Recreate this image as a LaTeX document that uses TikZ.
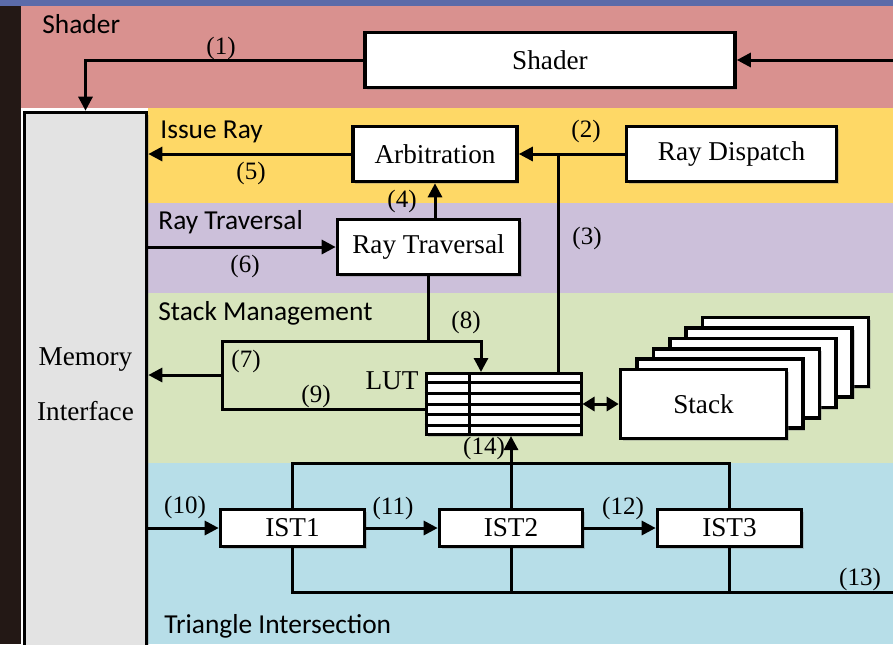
\documentclass[tikz,border=0pt]{standalone}
\usepackage{fontspec}
\setmainfont{Liberation Serif}
\newfontfamily\bandfont{Carlito}
\usepackage{tikz}
\usetikzlibrary{positioning, arrows.meta, calc, shadows}
\usepackage{xcolor}

\definecolor{slidebar}{HTML}{5B6BA9}
\definecolor{slidedark}{HTML}{231815}
\definecolor{bandpink}{HTML}{D9918F}
\definecolor{bandyellow}{HTML}{FED866}
\definecolor{bandlav}{HTML}{CCC0DA}
\definecolor{bandgreen}{HTML}{D7E4BD}
\definecolor{bandblue}{HTML}{B7DEE8}
\definecolor{memgray}{HTML}{E3E3E3}

\tikzset{
	blk/.style={draw, line width=1.8pt, fill=white, inner sep=0pt,
		font=\fontsize{13.6}{16}\selectfont,
		drop shadow={shadow xshift=1.2pt, shadow yshift=-1.2pt, opacity=.35}},
	num/.style={font=\fontsize{12.5}{14}\selectfont, inner sep=1pt},
	band/.style={font=\bandfont\fontsize{13.7}{16}\selectfont, anchor=west, inner sep=0pt},
	wire/.style={line width=1.5pt},
	arr/.style={wire, -{Triangle[length=7pt, width=7pt]}},
	darr/.style={wire, {Triangle[length=6pt, width=7pt]}-{Triangle[length=6pt, width=7pt]}}
}

\begin{document}
\begin{tikzpicture}[x=0.5pt, y=-0.5pt, node distance=1cm]
					\useasboundingbox (0,0) rectangle (893,644);
					\fill[slidebar] (0,0) rectangle (893,6);
					\fill[slidedark] (0,6) rectangle (21,644);
					\fill[bandpink] (21,6) rectangle (893,108);
					\fill[bandyellow] (148,108) rectangle (893,203);
					\fill[bandlav] (148,203) rectangle (893,293);
					\fill[bandgreen] (148,293) rectangle (893,463);
					\fill[bandblue] (148,463) rectangle (893,644);
					
					\node[band] (tshader) at (42,24) {Shader};
					\node[band] (tissue) at (160,132) {Issue Ray};
					\node[band] (ttrav) at (158,222) {Ray Traversal};
					\node[band] (tstack) at (158,313) {Stack Management};
					\node[band] (ttri) at (164,626) {Triangle Intersection};
					
					\node[blk, fill=memgray, minimum width=61pt, minimum height=272pt,
					align=center, font=\fontsize{13.6}{27.5}\selectfont] (mem) at (85.5,384.5) {Memory\\Interface};
					\node[blk, minimum width=185pt, minimum height=27.5pt] (shader) at (550,60) {Shader};
					\node[blk, minimum width=82pt, minimum height=27.5pt] (arb) at (435,154) {Arbitration};
					\node[blk, minimum width=105pt, minimum height=27.5pt] (disp) at (731.5,154) {Ray Dispatch};
					\node[blk, minimum width=91pt, minimum height=27.5pt] (trav) at (428.5,247) {Ray Traversal};
					\node[blk, minimum width=72pt, minimum height=18.5pt] (ist1) at (292.5,528) {IST1};
					\node[blk, minimum width=71.5pt, minimum height=18.5pt] (ist2) at (511,528) {IST2};
					\node[blk, minimum width=72pt, minimum height=18.5pt] (ist3) at (729.5,528) {IST3};
					\foreach \k in {5,4,3,2,1}
					\node[blk, minimum width=83pt, minimum height=34.5pt] (stk\k) at ({703.5+16.4*\k},{404-10.4*\k}) {};
					\node[blk, minimum width=83pt, minimum height=34.5pt] (stk0) at (703.5,404) {Stack};
					
					\node[draw, line width=1.5pt, fill=white, minimum width=77.5pt, minimum height=30.5pt,
					drop shadow={shadow xshift=1.2pt, shadow yshift=-1.2pt, opacity=.35}] (lut) at (503.5,404) {};
					\foreach \r in {1,...,5}
					\draw[wire] ($(lut.north west)!\r/6!(lut.south west)$) -- ($(lut.north east)!\r/6!(lut.south east)$);
					\draw[wire] (469,373) -- (469,435);
					\node[font=\fontsize{13.6}{16}\selectfont, inner sep=0pt] (lutname) at (392,381) {LUT};
					
					\coordinate (rin) at (893,60);
					\coordinate (j3) at (558,154);
					\coordinate (j8) at (428.5,341);
					\coordinate (c7) at (222,341);
					\coordinate (j7) at (222,375);
					\coordinate (c9) at (222,409);
					\coordinate (rbus) at (893,592);
					
					\draw[arr] (rin) -- (shader.east);
					\draw[arr] (shader.west) -| (mem.north);
					\draw[arr] (disp.west) -- (arb.east);
					\draw[wire] (j3) -- (j3 |- lut.north);
					\draw[arr] (arb.west) -- (arb.west -| mem.east);
					\draw[arr] (arb.south |- trav.north) -- (arb.south);
					\draw[arr] (mem.east |- trav.west) -- (trav.west);
					\draw[wire] (trav.south) -- (j8);
					\draw[arr] (j8) -| ($(lut.north)+(-22.5,0)$);
					\draw[wire] (j8) -- (c7) -- (c9) -- (c9 -| lut.west);
					\draw[arr] (j7) -- (j7 -| mem.east);
					\draw[darr] (lut.east) -- (stk0.west);
					
					\draw[arr] (mem.east |- ist1.west) -- (ist1.west);
					\draw
					(ist1.east) edge[arr] (ist2.west)
					(ist2.east) edge[arr] (ist3.west);
					\draw[wire] (ist1.north) -- (ist1.north |- 0,463) -- (ist3.north |- 0,463) -- (ist3.north);
					\draw[arr] (ist2.north) -- (ist2.north |- lut.south);
					\draw[wire] (ist1.south) -- (ist1.south |- rbus) -- (rbus);
					\draw[wire] (ist2.south) -- (ist2.south |- rbus);
					\draw[wire] (ist3.south) -- (ist3.south |- rbus);
					
					\node[num] (n1) at (221,48) {(1)};
					\node[num] (n2) at (586,131) {(2)};
					\node[num] (n3) at (587,238) {(3)};
					\node[num] (n4) at (402,201) {(4)};
					\node[num] (n5) at (251,173) {(5)};
					\node[num] (n6) at (245,266) {(6)};
					\node[num] (n7) at (246,361) {(7)};
					\node[num] (n8) at (466,322) {(8)};
					\node[num] (n9) at (316,396) {(9)};
					\node[num] (n10) at (185,507) {(10)};
					\node[num] (n11) at (393,508) {(11)};
					\node[num] (n12) at (623,508) {(12)};
					\node[num] (n13) at (860,579) {(13)};
					\node[num] (n14) at (484,448) {(14)};
				\end{tikzpicture}
\end{document}
